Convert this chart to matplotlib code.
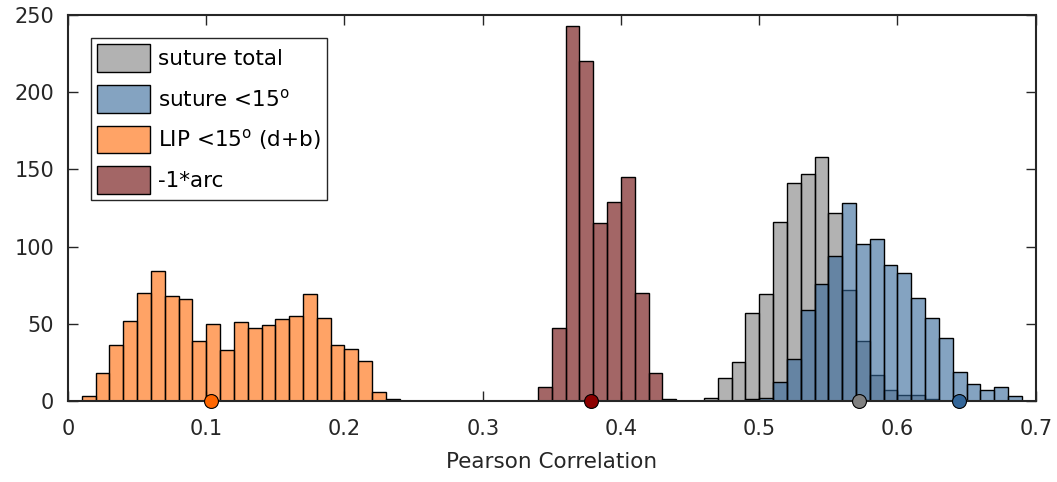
import numpy as np
import matplotlib
matplotlib.use("Agg")
import matplotlib.pyplot as plt
from matplotlib.patches import Patch

# ---- data (histogram counts, bin width 0.01; value = left bin edge) ----
bin_width = 0.01

gray_start = 0.46
gray_counts = [2, 15, 25, 57, 69, 116, 141, 147, 158, 122, 72, 39, 17, 7, 4, 4, 1]

blue_start = 0.49
blue_counts = [1, 2, 12, 27, 59, 76, 94, 128, 102, 105, 88, 83, 67, 54, 41, 19, 11, 7, 9, 3]

orange_start = 0.01
orange_counts = [3, 18, 36, 52, 70, 84, 68, 66, 39, 50, 33, 51, 47, 49, 53, 55, 69, 54,
                 36, 34, 26, 6, 1]

brown_start = 0.34
brown_counts = [9, 47, 243, 220, 115, 129, 145, 70, 18, 1]

means = {"gray": 0.572, "blue": 0.6445, "orange": 0.1032, "brown": 0.3784}

labels = ["suture total", r"suture <15$^\mathregular{o}$",
          r"LIP <15$^\mathregular{o}$ (d+b)", "-1*arc"]

xticks = [0, 0.1, 0.2, 0.3, 0.4, 0.5, 0.6, 0.7]
yticks = [0, 50, 100, 150, 200, 250]

# ---- styling ----
base = {"gray": (0.5, 0.5, 0.5), "blue": (0.2, 0.4, 0.6),
        "orange": (1.0, 0.4, 0.0), "brown": (0.4, 0.0, 0.0)}
dot = {"gray": (0.5, 0.5, 0.5), "blue": (0.2, 0.4, 0.6),
       "orange": (1.0, 0.4, 0.0), "brown": (0.55, 0.0, 0.0)}
alpha = 0.6
axc = (0.15, 0.15, 0.15)

plt.rcParams["font.family"] = ["DejaVu Sans"]
plt.rcParams["mathtext.default"] = "regular"

fig = plt.figure(figsize=(10.57, 4.82), dpi=100)
ax = fig.add_axes([68 / 1057, 1 - 401 / 482, (1035.7 - 68) / 1057, (401 - 15) / 482])

series = [("gray", gray_start, gray_counts), ("blue", blue_start, blue_counts),
          ("orange", orange_start, orange_counts), ("brown", brown_start, brown_counts)]
handles = []
for (key, start, counts), lab in zip(series, labels):
    edges = start + bin_width * np.arange(len(counts))
    fc = base[key] + (alpha,)
    ax.bar(edges, counts, width=bin_width, align="edge", facecolor=fc,
           edgecolor="black", linewidth=1.0, zorder=2)
    handles.append(Patch(facecolor=fc, edgecolor="black", linewidth=1.0, label=lab))

for key in ["orange", "brown", "gray", "blue"]:
    ax.plot([means[key]], [0], marker="o", markersize=10, markerfacecolor=dot[key],
            markeredgecolor="black", markeredgewidth=0.8, linestyle="none",
            clip_on=False, zorder=5)

ax.set_xlim(0, 0.7)
ax.set_ylim(0, 250)
ax.set_xticks(xticks)
ax.set_xticklabels([("%g" % v) for v in xticks])
ax.set_yticks(yticks)
ax.tick_params(direction="in", length=7.5, width=1.0, color=axc, labelcolor=axc,
               labelsize=15, top=True, right=True)
ax.tick_params(axis="x", pad=13)
ax.tick_params(axis="y", pad=10)
for s in ax.spines.values():
    s.set_color(axc)
    s.set_linewidth(1.5)
    s.set_zorder(4)
ax.set_xlabel("Pearson Correlation", fontsize=15.5, color=axc, labelpad=9)

leg = ax.legend(handles=handles, loc="upper left", bbox_to_anchor=(23 / 968, 1 - 23 / 386),
                borderaxespad=0, fontsize=15.5, handlelength=2.45, handleheight=1.6,
                labelspacing=0.6, handletextpad=0.35, borderpad=0.3, fancybox=False,
                framealpha=1, edgecolor=axc)
leg.get_frame().set_linewidth(1.0)

fig.savefig("out.png", dpi=100)
